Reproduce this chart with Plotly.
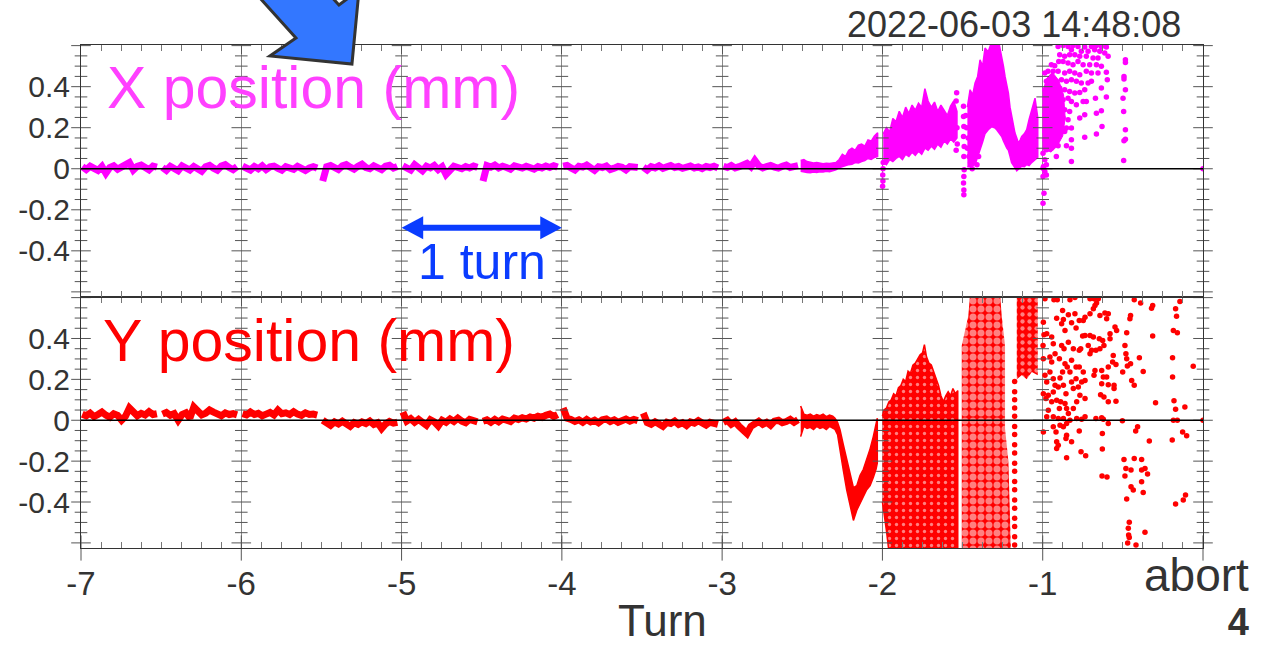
import numpy as np
import plotly.graph_objects as go

# ------------------------------------------------------------------ data
TURN_TICKS = [-7, -6, -5, -4, -3, -2, -1, 0]
TURN_LABELS = ["-7", "-6", "-5", "-4", "-3", "-2", "-1", ""]
Y_TICKS = [-0.4, -0.2, 0, 0.2, 0.4]
Y_LABELS = ["-0.4", "-0.2", "0", "0.2", "0.4"]

# quiet part of the record: one noisy trace per half turn (sample spacing in turns)
SAMPLE_STEP = 0.0245
BAND_STARTS = [-7.0, -6.5, -6.0, -5.5, -5.0, -4.5, -4.0, -3.5, -3.0]

# X position (mm), quiet half-turn segments
xq_m70 = [0.010, -0.004, 0.012, 0.003, -0.008, 0.011, -0.022, 0.006, 0.014, -0.002, 0.009, 0.015, 0.030, -0.006, 0.012, 0.018, 0.002, -0.005, 0.013, 0.008]
xq_m65 = [0.006, -0.008, 0.012, 0.002, -0.010, 0.014, 0.005, -0.006, 0.011, 0.000, -0.012, 0.010, 0.016, 0.003, -0.007, 0.013, 0.020, 0.006, -0.004, 0.010]
xq_m60 = [0.012, 0.004, -0.006, 0.011, 0.000, 0.014, -0.004, 0.009, 0.013, 0.002, -0.007, 0.010, 0.006, -0.003, 0.012, 0.001, -0.008, 0.004, 0.010, 0.003]
xq_m55 = [-0.060, 0.010, 0.016, 0.004, -0.004, 0.014, 0.020, 0.008, -0.002, 0.012, 0.022, 0.006, 0.000, 0.014, 0.009, -0.004, 0.012, 0.017, 0.003, 0.011]
xq_m50 = [0.014, 0.006, -0.006, 0.020, 0.008, -0.010, 0.012, 0.004, 0.016, -0.004, 0.010, -0.028, -0.008, 0.012, 0.006, 0.000, 0.011, 0.004, 0.013, 0.007]
xq_m45 = [-0.060, 0.015, 0.008, 0.018, 0.004, 0.012, 0.006, -0.002, 0.014, 0.010, 0.003, 0.012, 0.008, -0.002, 0.010, 0.004, 0.013, 0.006, 0.015, 0.008]
xq_m40 = [0.012, 0.016, 0.004, -0.006, 0.012, 0.008, 0.018, 0.002, -0.008, 0.010, 0.006, 0.013, -0.004, 0.003, 0.011, 0.007, -0.006, 0.010, 0.004, 0.006]
xq_m35 = [0.008, -0.006, 0.010, 0.004, 0.014, 0.002, 0.009, 0.016, 0.006, 0.011, 0.002, 0.008, 0.013, 0.004, 0.009, 0.001, 0.011, 0.006, 0.012, 0.004]
xq_m30 = [0.012, 0.006, 0.016, 0.004, 0.010, 0.018, 0.026, 0.010, 0.040, 0.014, 0.004, 0.011, 0.016, 0.008, 0.003, 0.012, 0.018, 0.006, 0.010, 0.015]

# Y position (mm), quiet half-turn segments
yq_m70 = [0.030, 0.022, 0.035, 0.018, 0.028, 0.040, 0.025, 0.015, 0.032, 0.024, 0.000, 0.020, 0.060, 0.038, 0.022, 0.034, 0.026, 0.042, 0.028, 0.032]
yq_m65 = [0.030, 0.038, 0.024, 0.032, 0.000, 0.028, 0.036, 0.010, 0.065, 0.045, 0.026, 0.034, 0.050, 0.040, 0.030, 0.022, 0.036, 0.028, 0.032, 0.026]
yq_m60 = [0.032, 0.026, 0.040, 0.028, 0.034, 0.022, 0.030, 0.038, 0.026, 0.050, 0.032, 0.036, 0.028, 0.042, 0.030, 0.024, 0.036, 0.028, 0.030, 0.025]
yq_m55 = [0.000, -0.010, -0.025, -0.008, -0.018, -0.005, -0.015, -0.030, -0.012, -0.020, -0.008, -0.016, -0.004, -0.020, -0.012, -0.040, -0.018, -0.006, -0.014, -0.010]
yq_m50 = [0.040, -0.004, 0.008, -0.010, 0.004, -0.012, -0.025, 0.002, -0.008, -0.028, 0.000, -0.010, 0.006, -0.006, 0.010, -0.004, -0.012, 0.004, 0.000, -0.008]
yq_m45 = [-0.005, 0.002, -0.010, 0.004, -0.008, 0.006, 0.000, -0.006, 0.010, 0.004, 0.012, 0.006, 0.016, 0.010, 0.020, 0.014, 0.024, 0.030, 0.018, 0.028]
yq_m40 = [0.060, 0.010, 0.004, -0.006, 0.002, -0.010, 0.004, -0.008, 0.000, -0.012, 0.002, 0.006, -0.006, 0.002, -0.010, -0.002, 0.006, -0.004, 0.004, -0.002]
yq_m35 = [0.035, -0.012, -0.020, -0.008, -0.018, -0.030, -0.010, -0.016, -0.004, -0.020, -0.012, -0.026, -0.008, -0.014, -0.002, -0.018, -0.024, -0.010, -0.016, -0.020]
yq_m30 = [-0.010, 0.000, -0.020, -0.008, -0.030, -0.050, -0.065, -0.030, -0.015, -0.005, -0.020, -0.010, -0.025, -0.004, 0.000, -0.012, -0.006, 0.004, -0.010, 0.002]

# X: last half turn before -2 (envelope)
x_s25_turn = [-2.51, -2.49, -2.47, -2.45, -2.43, -2.41, -2.39, -2.37, -2.35, -2.33, -2.31, -2.29, -2.27,
              -2.25, -2.23, -2.21, -2.19, -2.17, -2.15, -2.13, -2.11, -2.09, -2.07, -2.05, -2.03]
x_s25_upper = [0.040, 0.045, 0.035, 0.032, 0.028, 0.030, 0.026, 0.024, 0.027, 0.025, 0.028, 0.030, 0.045,
               0.070, 0.060, 0.090, 0.100, 0.090, 0.115, 0.120, 0.110, 0.140, 0.135, 0.160, 0.175]
x_s25_lower = [-0.012, -0.015, -0.018, -0.020, -0.016, -0.018, -0.015, -0.016, -0.012, -0.014, -0.010, -0.005, 0.005,
               0.012, 0.015, 0.020, 0.022, 0.030, 0.028, 0.035, 0.040, 0.050, 0.045, 0.055, 0.060]

# X: turn -2 .. -1.5 (envelope)
x_s20_turn = [-1.995, -1.975, -1.955, -1.935, -1.915, -1.895, -1.875, -1.855, -1.835, -1.815, -1.795, -1.775,
              -1.755, -1.735, -1.715, -1.695, -1.675, -1.655, -1.635, -1.615, -1.595, -1.575, -1.555, -1.535]
x_s20_upper = [0.170, 0.200, 0.180, 0.245, 0.230, 0.280, 0.250, 0.300, 0.270, 0.310, 0.285, 0.320,
               0.300, 0.390, 0.330, 0.300, 0.325, 0.280, 0.310, 0.285, 0.260, 0.305, 0.330, 0.280]
x_s20_lower = [0.030, 0.020, 0.045, 0.035, 0.050, 0.060, 0.045, 0.070, 0.060, 0.080, 0.065, 0.085,
               0.070, 0.100, 0.090, 0.110, 0.095, 0.120, 0.105, 0.135, 0.120, 0.145, 0.130, 0.150]

# X: turn -1.5 .. -1 (envelope)
x_s15_turn = [-1.470, -1.453, -1.437, -1.422, -1.406, -1.391, -1.375, -1.360, -1.340, -1.318, -1.300, -1.287,
              -1.270, -1.256, -1.245, -1.235, -1.224, -1.214, -1.204, -1.194, -1.183, -1.173, -1.162, -1.152,
              -1.141, -1.131, -1.115, -1.100, -1.085, -1.069, -1.058, -1.048, -1.040, -1.031]
x_s15_upper = [0.300, 0.385, 0.360, 0.418, 0.450, 0.531, 0.500, 0.588, 0.570, 0.620, 0.620, 0.620,
               0.600, 0.548, 0.500, 0.450, 0.410, 0.369, 0.300, 0.255, 0.210, 0.174, 0.150, 0.125,
               0.140, 0.157, 0.170, 0.190, 0.240, 0.288, 0.320, 0.344, 0.300, 0.250]
x_s15_lower = [0.010, 0.010, 0.015, 0.020, 0.050, 0.090, 0.130, 0.170, 0.190, 0.205, 0.200, 0.190,
               0.175, 0.157, 0.135, 0.115, 0.100, 0.090, 0.060, 0.030, 0.020, 0.005, -0.010, -0.005,
               0.005, 0.012, 0.010, 0.020, 0.015, 0.030, 0.040, 0.045, 0.050, 0.055]

# X: dense core just after turn -1
x_core_turn = [-0.998, -0.998, -0.975, -0.940, -0.900, -0.870, -0.860, -0.875, -0.910, -0.950]
x_core_val = [0.090, 0.380, 0.440, 0.470, 0.430, 0.360, 0.250, 0.160, 0.110, 0.080]

# X: individual points
x_dots_mid = [(-1.494, 0.304), (-1.494, 0.255), (-1.492, 0.206), (-1.494, 0.157), (-1.490, 0.109), (-1.492, 0.060),
              (-1.490, -0.005), (-1.492, -0.038), (-1.494, -0.070), (-1.492, -0.103), (-1.492, -0.127),
              (-1.470, 0.100), (-1.460, 0.060), (-1.450, 0.030), (-1.440, 0.000), (-1.430, 0.050), (-1.410, 0.020),
              (-1.400, 0.060), (-1.475, 0.200), (-1.465, 0.150), (-1.480, 0.260),
              (-1.998, -0.030), (-1.997, -0.060), (-1.999, -0.085), (-1.996, 0.000), (-1.995, 0.030),
              (-1.540, 0.330), (-1.537, 0.370), (-1.535, 0.200), (-1.533, 0.120), (-1.540, 0.090)]
x_dots_late = [
    (-0.904, 0.596), (-0.873, 0.600), (-0.842, 0.596), (-0.811, 0.600), (-0.780, 0.596), (-0.738, 0.593), (-0.696, 0.596),
    (-0.665, 0.600), (-0.634, 0.596), (-0.603, 0.593), (-0.821, 0.580), (-0.759, 0.572), (-0.717, 0.572), (-0.676, 0.580),
    (-0.644, 0.572), (-0.613, 0.564), (-0.592, 0.548), (-0.894, 0.556), (-0.863, 0.548), (-0.832, 0.556), (-0.800, 0.556),
    (-0.769, 0.548), (-0.728, 0.548), (-0.686, 0.540), (-0.655, 0.540), (-0.946, 0.507), (-0.925, 0.502), (-0.900, 0.523),
    (-0.873, 0.523), (-0.842, 0.515), (-0.811, 0.507), (-0.780, 0.523), (-0.748, 0.507), (-0.707, 0.507), (-0.665, 0.507),
    (-0.634, 0.499), (-0.484, 0.531), (-0.484, 0.518), (-0.987, 0.466), (-0.967, 0.475), (-0.935, 0.475), (-0.904, 0.475),
    (-0.863, 0.466), (-0.832, 0.475), (-0.800, 0.466), (-0.769, 0.458), (-0.728, 0.475), (-0.696, 0.466), (-0.655, 0.466),
    (-0.603, 0.470), (-0.597, 0.434), (-0.493, 0.450), (-0.493, 0.437), (-0.977, 0.426), (-0.946, 0.434), (-0.915, 0.426),
    (-0.883, 0.434), (-0.852, 0.426), (-0.821, 0.434), (-0.790, 0.426), (-0.759, 0.418), (-0.717, 0.418), (-0.696, 0.426),
    (-0.634, 0.393), (-0.484, 0.385), (-0.987, 0.385), (-0.956, 0.393), (-0.925, 0.385), (-0.894, 0.393), (-0.863, 0.385),
    (-0.832, 0.377), (-0.800, 0.369), (-0.769, 0.372), (-0.738, 0.385), (-0.671, 0.344), (-0.603, 0.349), (-0.499, 0.344),
    (-0.987, 0.344), (-0.967, 0.336), (-0.935, 0.353), (-0.904, 0.344), (-0.873, 0.336), (-0.842, 0.344), (-0.821, 0.328),
    (-0.790, 0.312), (-0.748, 0.328), (-0.728, 0.328), (-0.987, 0.304), (-0.956, 0.296), (-0.925, 0.304), (-0.894, 0.312),
    (-0.863, 0.288), (-0.832, 0.279), (-0.769, 0.247), (-0.738, 0.263), (-0.665, 0.271), (-0.634, 0.283), (-0.495, 0.279),
    (-0.987, 0.263), (-0.967, 0.255), (-0.935, 0.263), (-0.904, 0.255), (-0.873, 0.247), (-0.842, 0.239), (-0.821, 0.198),
    (-0.852, 0.198), (-0.883, 0.206), (-0.915, 0.214), (-0.946, 0.222), (-0.977, 0.222), (-0.630, 0.206), (-0.484, 0.190),
    (-0.987, 0.182), (-0.956, 0.174), (-0.925, 0.166), (-0.894, 0.174), (-0.863, 0.182), (-0.821, 0.141), (-0.738, 0.153),
    (-0.665, 0.169), (-0.493, 0.136), (-0.484, 0.144), (-0.987, 0.141), (-0.967, 0.125), (-0.935, 0.117), (-0.904, 0.112),
    (-0.852, 0.112), (-0.821, 0.100), (-0.977, 0.092), (-0.946, 0.100), (-0.915, 0.060), (-0.821, 0.035), (-0.495, 0.040),
    (-0.998, 0.076), (-0.987, 0.044), (-0.977, 0.019), (-0.998, 0.003), (-0.987, -0.013), (-0.977, -0.030), (-0.998, -0.038),
    (-0.992, -0.119), (-0.998, -0.168), (-0.995, 0.011), (0.0, 0.0)]

# Y: last half turn before -2 (envelope with the dip)
y_s25_turn = [-2.51, -2.49, -2.47, -2.45, -2.43, -2.41, -2.39, -2.37, -2.35, -2.33, -2.31, -2.296, -2.28,
              -2.265, -2.244, -2.223, -2.202, -2.181, -2.16, -2.14, -2.119, -2.098, -2.077, -2.057, -2.04, -2.032]
y_s25_upper = [0.070, 0.030, 0.025, 0.030, 0.020, 0.028, 0.022, 0.030, 0.018, 0.025, 0.020, 0.010, -0.010,
               -0.045, -0.120, -0.190, -0.270, -0.330, -0.320, -0.270, -0.240, -0.190, -0.140, -0.080, -0.020, 0.010]
y_s25_lower = [-0.080, -0.030, -0.040, -0.035, -0.045, -0.030, -0.040, -0.035, -0.045, -0.030, -0.040, -0.045, -0.070,
               -0.130, -0.245, -0.340, -0.420, -0.490, -0.440, -0.410, -0.375, -0.340, -0.320, -0.280, -0.240, -0.210]

# Y: turn -2 .. -1.5 dense cloud (top edge, then the bottom edge back)
y_cloud_turn = [-2.0, -1.99, -1.975, -1.96, -1.945, -1.93, -1.915, -1.9, -1.885, -1.87, -1.855, -1.84, -1.825,
                -1.81, -1.795, -1.78, -1.765, -1.75, -1.738, -1.725, -1.71, -1.695, -1.68, -1.665, -1.65, -1.635,
                -1.62, -1.605, -1.59, -1.575, -1.56, -1.545, -1.53]
y_cloud_top = [0.020, 0.050, 0.060, 0.090, 0.100, 0.130, 0.120, 0.160, 0.170, 0.200, 0.190, 0.240, 0.230,
               0.270, 0.280, 0.300, 0.320, 0.330, 0.370, 0.310, 0.280, 0.270, 0.240, 0.200, 0.170, 0.120,
               0.090, 0.120, 0.140, 0.120, 0.155, 0.130, 0.145]
y_cloud_base_turn = [-1.53, -1.96, -1.975, -1.99, -2.0]
y_cloud_base_val = [-0.640, -0.640, -0.540, -0.460, -0.400]

# Y: turn -1.5 .. -1.2 (scattered region) and -1.16 .. -1.03 (upper cluster)
y_regA_turn = [-1.505, -1.505, -1.464, -1.453, -1.266, -1.256, -1.235, -1.235, -1.214, -1.198]
y_regA_val = [-0.640, 0.366, 0.512, 0.620, 0.620, 0.512, 0.366, -0.040, -0.203, -0.640]
y_regB_turn = [-1.162, -1.162, -1.031, -1.031, -1.068, -1.100, -1.131]
y_regB_val = [0.200, 0.620, 0.620, 0.220, 0.236, 0.200, 0.220]
y_column_turn = -1.175
y_column_val = [0.19, 0.14, 0.10, 0.06, 0.02, -0.03, -0.07, -0.12, -0.16, -0.21, -0.25, -0.30, -0.34, -0.39,
                -0.43, -0.48, -0.52, -0.57, -0.61]

y_dots_late = [
    (-0.986, 0.594), (-0.930, 0.590), (-0.909, 0.590), (-0.830, 0.590), (-0.799, 0.600), (-0.705, 0.594), (-0.680, 0.594),
    (-0.653, 0.594), (-0.591, 0.607), (-0.429, 0.590), (-0.389, 0.574), (-0.314, 0.561), (-0.321, 0.548), (-0.144, 0.581),
    (-0.171, 0.545), (-0.165, 0.509), (-0.876, 0.537), (-0.913, 0.499), (-0.871, 0.493), (-0.840, 0.516), (-0.799, 0.521),
    (-0.772, 0.488), (-0.736, 0.504), (-0.747, 0.488), (-0.705, 0.521), (-0.684, 0.545), (-0.674, 0.561), (-0.664, 0.574),
    (-0.643, 0.512), (-0.612, 0.525), (-0.591, 0.521), (-0.601, 0.496), (-0.549, 0.456), (-0.539, 0.439), (-0.456, 0.496),
    (-0.452, 0.512), (-0.476, 0.428), (-0.314, 0.412), (-0.185, 0.439), (-0.160, 0.428), (-0.996, 0.480), (-0.882, 0.472),
    (-0.820, 0.477), (-0.792, 0.451), (-0.861, 0.439), (-0.975, 0.423), (-0.992, 0.418), (-0.944, 0.407), (-0.751, 0.412),
    (-0.736, 0.415), (-0.705, 0.415), (-0.684, 0.407), (-0.647, 0.399), (-0.626, 0.390), (-0.580, 0.423), (-0.580, 0.399),
    (-0.487, 0.366), (-0.481, 0.325), (-0.476, 0.301), (-0.452, 0.277), (-0.397, 0.306), (-0.190, 0.306), (-0.061, 0.264),
    (-0.998, 0.366), (-0.934, 0.374), (-0.882, 0.366), (-0.840, 0.382), (-0.867, 0.350), (-0.809, 0.350), (-0.772, 0.342),
    (-0.763, 0.350), (-0.716, 0.366), (-0.695, 0.342), (-0.705, 0.325), (-0.668, 0.342), (-0.643, 0.350), (-0.618, 0.366),
    (-0.560, 0.317), (-0.564, 0.285), (-0.591, 0.260), (-0.543, 0.273), (-0.501, 0.236), (-0.472, 0.265), (-0.373, 0.239),
    (-0.190, 0.212), (-0.445, 0.195), (-0.429, 0.171), (-0.996, 0.301), (-0.955, 0.309), (-0.923, 0.325), (-0.944, 0.285),
    (-0.896, 0.301), (-0.861, 0.277), (-0.820, 0.293), (-0.792, 0.260), (-0.772, 0.260), (-0.847, 0.260), (-0.876, 0.236),
    (-0.830, 0.236), (-0.792, 0.203), (-0.747, 0.236), (-0.674, 0.244), (-0.680, 0.220), (-0.632, 0.244), (-0.622, 0.212),
    (-0.601, 0.212), (-0.632, 0.179), (-0.591, 0.174), (-0.555, 0.171), (-0.555, 0.155), (-0.986, 0.220), (-0.975, 0.187),
    (-0.955, 0.236), (-0.934, 0.203), (-0.923, 0.171), (-0.892, 0.207), (-0.903, 0.163), (-0.871, 0.171), (-0.855, 0.130),
    (-0.820, 0.187), (-0.809, 0.155), (-0.778, 0.163), (-0.757, 0.187), (-0.736, 0.195), (-0.768, 0.122), (-0.788, 0.090),
    (-0.736, 0.106), (-0.639, 0.125), (-0.618, 0.114), (-0.591, 0.090), (-0.543, 0.093), (-0.296, 0.086), (-0.181, 0.095),
    (-0.171, 0.054), (-0.113, 0.065), (-0.996, 0.130), (-0.980, 0.106), (-0.965, 0.122), (-0.934, 0.138), (-0.944, 0.090),
    (-0.913, 0.098), (-0.888, 0.090), (-0.861, 0.082), (-0.851, 0.057), (-0.809, 0.057), (-0.896, 0.057), (-0.840, 0.033),
    (-0.965, 0.049), (-0.975, 0.017), (-0.934, 0.017), (-0.903, 0.008), (-0.871, 0.008), (-0.830, 0.000), (-0.788, 0.008),
    (-0.757, 0.005), (-0.736, 0.017), (-0.668, 0.008), (-0.632, 0.012), (-0.622, 0.005), (-0.503, -0.003), (-0.185, 0.000),
    (-0.160, 0.000), (0.0, 0.0), (-0.996, -0.057), (-0.934, -0.032), (-0.917, -0.057), (-0.892, -0.024), (-0.871, -0.032),
    (-0.851, -0.016), (-0.913, -0.105), (-0.913, -0.138), (-0.903, -0.122), (-0.851, -0.073), (-0.855, -0.089),
    (-0.820, -0.105), (-0.772, -0.052), (-0.628, -0.065), (-0.628, -0.141), (-0.591, -0.016), (-0.408, -0.032),
    (-0.420, -0.053), (-0.335, -0.102), (-0.192, -0.097), (-0.127, -0.057), (-0.102, -0.076), (-0.851, -0.184),
    (-0.761, -0.154), (-0.732, -0.174), (-0.493, -0.192), (-0.429, -0.187), (-0.383, -0.192), (-0.481, -0.236),
    (-0.449, -0.244), (-0.487, -0.273), (-0.383, -0.244), (-0.362, -0.236), (-0.346, -0.263), (-0.383, -0.301),
    (-0.630, -0.273), (-0.599, -0.278), (-0.449, -0.325), (-0.435, -0.341), (-0.373, -0.354), (-0.476, -0.385),
    (-0.171, -0.410), (-0.123, -0.390), (-0.109, -0.366), (-0.460, -0.499), (-0.466, -0.528), (-0.464, -0.561),
    (-0.460, -0.574), (-0.470, -0.601), (-0.418, -0.610), (-0.362, -0.548)]

# ------------------------------------------------------------------ style
MAGENTA = "#ff00ff"
RED = "#ff0000"
TEXT = "#333333"
FONT = "Liberation Sans, Arial, sans-serif"
YR = [-0.625, 0.603]
DOT = 5.5

fig = go.Figure()


def quiet_trace(segments):
    xs, ys = [], []
    for start, vals in zip(BAND_STARTS, segments):
        for i, v in enumerate(vals):
            xs.append(start + 0.008 + i * SAMPLE_STEP)
            ys.append(v)
        xs.append(None)
        ys.append(None)
    return xs, ys


def add_band(xs, upper, lower, color, xa, ya):
    fig.add_trace(go.Scatter(x=list(xs) + list(xs)[::-1], y=list(upper) + list(lower)[::-1],
                             fill="toself", fillcolor=color, mode="lines",
                             line=dict(color=color, width=1.5), xaxis=xa, yaxis=ya, hoverinfo="skip"))


def add_dots(pairs, color, xa, ya):
    fig.add_trace(go.Scatter(x=[p[0] for p in pairs], y=[p[1] for p in pairs], mode="markers",
                             marker=dict(size=DOT, color=color), xaxis=xa, yaxis=ya, hoverinfo="skip"))


# ---- X position panel (top: x2/y2)
qx, qy = quiet_trace([xq_m70, xq_m65, xq_m60, xq_m55, xq_m50, xq_m45, xq_m40, xq_m35, xq_m30])
fig.add_trace(go.Scatter(x=qx, y=qy, mode="lines", line=dict(color=MAGENTA, width=7),
                         xaxis="x2", yaxis="y2", hoverinfo="skip"))
add_band(x_s25_turn, x_s25_upper, x_s25_lower, MAGENTA, "x2", "y2")
add_band(x_s20_turn, x_s20_upper, x_s20_lower, MAGENTA, "x2", "y2")
add_band(x_s15_turn, x_s15_upper, x_s15_lower, MAGENTA, "x2", "y2")
fig.add_trace(go.Scatter(x=x_core_turn, y=x_core_val, fill="toself", fillcolor=MAGENTA, mode="lines",
                         line=dict(color=MAGENTA, width=1), xaxis="x2", yaxis="y2", hoverinfo="skip"))
add_dots(x_dots_mid, MAGENTA, "x2", "y2")
add_dots(x_dots_late, MAGENTA, "x2", "y2")

# ---- Y position panel (bottom: x/y)
qx, qy = quiet_trace([yq_m70, yq_m65, yq_m60, yq_m55, yq_m50, yq_m45, yq_m40, yq_m35, yq_m30])
fig.add_trace(go.Scatter(x=qx, y=qy, mode="lines", line=dict(color=RED, width=7),
                         xaxis="x", yaxis="y", hoverinfo="skip"))
add_band(y_s25_turn, y_s25_upper, y_s25_lower, RED, "x", "y")
fig.add_trace(go.Scatter(x=y_cloud_turn + y_cloud_base_turn, y=y_cloud_top + y_cloud_base_val,
                         fill="toself", mode="lines", line=dict(color=RED, width=1.5),
                         fillpattern=dict(shape=".", fgcolor="white", bgcolor=RED, size=7, solidity=0.18),
                         xaxis="x", yaxis="y", hoverinfo="skip"))
fig.add_trace(go.Scatter(x=y_regA_turn, y=y_regA_val, fill="toself", mode="none",
                         fillpattern=dict(shape=".", fgcolor="white", bgcolor=RED, size=8, solidity=0.6),
                         xaxis="x", yaxis="y", hoverinfo="skip"))
fig.add_trace(go.Scatter(x=y_regB_turn, y=y_regB_val, fill="toself", mode="none",
                         fillpattern=dict(shape=".", fgcolor="white", bgcolor=RED, size=7, solidity=0.3),
                         xaxis="x", yaxis="y", hoverinfo="skip"))
fig.add_trace(go.Scatter(x=[y_column_turn] * len(y_column_val), y=y_column_val, mode="markers",
                         marker=dict(size=DOT, color=RED), xaxis="x", yaxis="y", hoverinfo="skip"))
add_dots(y_dots_late, RED, "x", "y")

# ---- tick crosses on every turn boundary (decoration)
minor_y = [v for v in np.round(np.arange(-0.6, 0.6001, 0.05), 3) if abs(v / 0.2 - round(v / 0.2)) > 1e-6]
major_y = [-0.6, -0.4, -0.2, 0.0, 0.2, 0.4, 0.6]
for xa, ya in (("x", "y"), ("x2", "y2")):
    for vals, size in ((minor_y, 9), (major_y, 14)):
        xs = [t for t in TURN_TICKS for _ in vals]
        ys = [v for _ in TURN_TICKS for v in vals]
        fig.add_trace(go.Scatter(x=xs, y=ys, mode="markers", cliponaxis=False,
                                 marker=dict(symbol="line-ew", size=size, color="#555",
                                             line=dict(width=1, color="#555")),
                                 xaxis=xa, yaxis=ya, hoverinfo="skip"))
# integer ticks crossing the bottom frame
fig.add_trace(go.Scatter(x=TURN_TICKS, y=[YR[0]] * len(TURN_TICKS), mode="markers", cliponaxis=False,
                         marker=dict(symbol="line-ns", size=18, color="#555", line=dict(width=1, color="#555")),
                         xaxis="x", yaxis="y", hoverinfo="skip"))

# ------------------------------------------------------------------ layout
xcommon = dict(range=[-7, 0], tickvals=TURN_TICKS, showgrid=True, gridcolor="#8a8a8a", gridwidth=1,
               zeroline=False, showline=True, linecolor="#333", linewidth=1, mirror="allticks",
               ticks="inside", ticklen=9, tickcolor="#555", tickwidth=1,
               minor=dict(dtick=0.125, tick0=0, ticks="inside", ticklen=6, tickcolor="#777", showgrid=False))
ycommon = dict(range=YR, tickvals=Y_TICKS, ticktext=Y_LABELS, ticks="", showgrid=False, zeroline=False,
               showline=True, linecolor="#333", linewidth=1, mirror=True,
               tickfont=dict(size=30, color=TEXT, family=FONT), ticklabelstandoff=4)

fig.update_layout(
    width=1263, height=645, margin=dict(l=81, r=60, t=45, b=97, autoexpand=False),
    paper_bgcolor="white", plot_bgcolor="white", showlegend=False,
    font=dict(family=FONT, color=TEXT),
    xaxis=dict(domain=[0, 1], anchor="y", ticktext=TURN_LABELS,
               tickfont=dict(size=33, color=TEXT, family=FONT), ticklabelstandoff=6, **xcommon),
    xaxis2=dict(domain=[0, 1], anchor="y2", matches="x", showticklabels=False, **xcommon),
    yaxis=dict(domain=[0, 0.499], anchor="x", **ycommon),
    yaxis2=dict(domain=[0.499, 1], anchor="x2", **ycommon),
)

# zero lines drawn above the data
for xa, ya in (("x", "y"), ("x2", "y2")):
    fig.add_shape(type="line", xref=xa, yref=ya, x0=-7, x1=0, y0=0, y1=0,
                  line=dict(color="black", width=1.5), layer="above")

# "1 turn" double arrow (top panel data coords)
ARROW_Y = -0.288
fig.add_shape(type="line", xref="x2", yref="y2", x0=-4.88, x1=-4.12, y0=ARROW_Y, y1=ARROW_Y,
              line=dict(color="#0a3cff", width=6), layer="above")
fig.add_shape(type="path", xref="x2", yref="y2", fillcolor="#0a3cff", line=dict(width=0), layer="above",
              path=f"M -5.0,{ARROW_Y} L -4.865,{ARROW_Y + 0.056} L -4.865,{ARROW_Y - 0.056} Z")
fig.add_shape(type="path", xref="x2", yref="y2", fillcolor="#0a3cff", line=dict(width=0), layer="above",
              path=f"M -4.0,{ARROW_Y} L -4.135,{ARROW_Y + 0.056} L -4.135,{ARROW_Y - 0.056} Z")


# big block arrow at the top (pixel outline converted to paper coords)
def pp(px, py):
    return f"{(px - 81) / 1122:.4f},{(548 - py) / 503:.4f}"


arrow_px = [(214, -53), (296, 38), (270, 56), (352, 64), (359, -10), (339, 5), (287, -52)]
path = "M " + " L ".join(pp(a, b) for a, b in arrow_px) + " Z"
fig.add_shape(type="path", xref="paper", yref="paper", path=path, fillcolor="#3377ff",
              line=dict(color="#333333", width=3), layer="above")

# texts
fig.add_annotation(text="X position (mm)", xref="paper", yref="paper", x=0.021, y=0.9145,
                   xanchor="left", yanchor="middle", showarrow=False,
                   font=dict(size=59, color="#ff40ff", family=FONT))
fig.add_annotation(text="Y position (mm)", xref="paper", yref="paper", x=0.018, y=0.4115,
                   xanchor="left", yanchor="middle", showarrow=False,
                   font=dict(size=59, color=RED, family=FONT))
fig.add_annotation(text="1 turn", xref="x2", yref="y2", x=-4.5, y=-0.456,
                   xanchor="center", yanchor="middle", showarrow=False,
                   font=dict(size=50, color="#0a3cff", family=FONT))
fig.add_annotation(text="2022-06-03 14:48:08", xref="paper", yref="paper", x=0.982, y=1.0408,
                   xanchor="right", yanchor="middle", showarrow=False,
                   font=dict(size=36, color=TEXT, family=FONT))
fig.add_annotation(text="Turn", xref="paper", yref="paper", x=0.5187, y=-0.145,
                   xanchor="center", yanchor="middle", showarrow=False,
                   font=dict(size=44, color=TEXT, family=FONT))
# "abort" end label and the page number, stacked and right-aligned
fig.add_annotation(text='<span style="font-size:46px">abort</span><br><b><span style="font-size:38px">4</span></b>',
                   xref="paper", yref="paper", x=1.0419, y=-0.0955, xanchor="right", yanchor="middle",
                   align="right", showarrow=False, borderpad=0,
                   font=dict(size=34, color=TEXT, family=FONT))

fig.write_html("out.html", config={"displayModeBar": False},
               post_script="document.body.style.margin='0';document.body.style.padding='0';")
